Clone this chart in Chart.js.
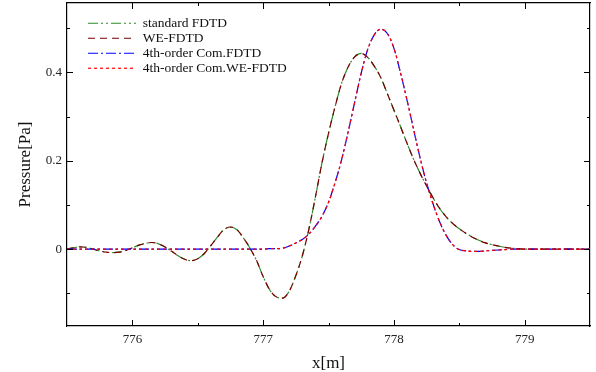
<!DOCTYPE html>
<html>
<head>
<meta charset="utf-8">
<script src="https://cdn.jsdelivr.net/npm/chart.js@4/dist/chart.umd.min.js"></script>
<style>
  body { margin: 0; background: #fff; }
  #wrap { width: 596px; height: 372px; position: relative; }
</style>
</head>
<body>
<div id="wrap"><canvas id="presion"></canvas></div>
<script>
// posiciones x[m]
const xs = [
  775.50, 775.55, 775.60, 775.65, 775.70, 775.75, 775.80, 775.85, 775.90, 775.95,
  776.00, 776.05, 776.10, 776.15, 776.20, 776.25, 776.30, 776.35, 776.40, 776.45,
  776.50, 776.55, 776.60, 776.65, 776.70, 776.75, 776.80, 776.85, 776.90, 776.95,
  777.00, 777.05, 777.10, 777.15, 777.20, 777.25, 777.30, 777.35, 777.40, 777.45,
  777.50, 777.55, 777.60, 777.65, 777.70, 777.75, 777.80, 777.85, 777.90, 777.95,
  778.00, 778.05, 778.10, 778.15, 778.20, 778.25, 778.30, 778.35, 778.40, 778.45,
  778.50, 778.55, 778.60, 778.65, 778.70, 778.75, 778.80, 778.85, 778.90, 778.95,
  779.00, 779.05, 779.10, 779.15, 779.20, 779.25, 779.30, 779.35, 779.40, 779.45,
  779.50
];

const standardFDTD = [
  0.000, 0.003, 0.005, 0.004, 0.000, -0.004, -0.007, -0.008, -0.007, -0.003,
  0.003, 0.009, 0.013, 0.015, 0.012, 0.005, -0.005, -0.015, -0.023, -0.026,
  -0.022, -0.010, 0.008, 0.027, 0.044, 0.050, 0.044, 0.025, 0.002, -0.026,
  -0.062, -0.092, -0.108, -0.111, -0.095, -0.060, -0.015, 0.045, 0.118, 0.195,
  0.262, 0.322, 0.375, 0.412, 0.435, 0.443, 0.434, 0.414, 0.388, 0.352,
  0.315, 0.278, 0.240, 0.204, 0.172, 0.143, 0.116, 0.092, 0.073, 0.058,
  0.046, 0.036, 0.027, 0.020, 0.014, 0.010, 0.007, 0.004, 0.002, 0.001,
  0, 0, 0, 0, 0, 0, 0, 0, 0, 0,
  0
];

const weFDTD = [
  0.000, 0.003, 0.005, 0.004, 0.000, -0.004, -0.007, -0.008, -0.007, -0.003,
  0.003, 0.009, 0.013, 0.015, 0.012, 0.005, -0.005, -0.015, -0.023, -0.026,
  -0.022, -0.010, 0.008, 0.027, 0.044, 0.050, 0.044, 0.025, 0.002, -0.026,
  -0.062, -0.092, -0.108, -0.111, -0.095, -0.060, -0.015, 0.045, 0.118, 0.195,
  0.262, 0.322, 0.375, 0.412, 0.435, 0.443, 0.434, 0.414, 0.388, 0.352,
  0.315, 0.278, 0.240, 0.204, 0.172, 0.143, 0.116, 0.092, 0.073, 0.058,
  0.046, 0.036, 0.027, 0.020, 0.014, 0.010, 0.007, 0.004, 0.002, 0.001,
  0, 0, 0, 0, 0, 0, 0, 0, 0, 0,
  0
];

const com4FDTD = [
  0, 0, 0, 0, 0, 0, 0, 0, 0, 0,
  0, 0, 0, 0, 0, 0, 0, 0, 0, 0,
  0, 0, 0, 0, 0, 0, 0, 0, 0, 0,
  0.000, 0.001, 0.001, 0.002, 0.007, 0.014, 0.022, 0.034, 0.052, 0.074,
  0.106, 0.150, 0.202, 0.265, 0.332, 0.398, 0.452, 0.485, 0.498, 0.488,
  0.455, 0.400, 0.338, 0.272, 0.207, 0.150, 0.102, 0.062, 0.031, 0.010,
  -0.001, -0.004, -0.005, -0.005, -0.004, -0.003, -0.002, -0.001, 0, 0,
  0, 0, 0, 0, 0, 0, 0, 0, 0, 0,
  0
];

const com4WEFDTD = [
  0, 0, 0, 0, 0, 0, 0, 0, 0, 0,
  0, 0, 0, 0, 0, 0, 0, 0, 0, 0,
  0, 0, 0, 0, 0, 0, 0, 0, 0, 0,
  0.000, 0.001, 0.001, 0.002, 0.007, 0.014, 0.022, 0.034, 0.052, 0.074,
  0.106, 0.150, 0.202, 0.265, 0.332, 0.398, 0.452, 0.485, 0.498, 0.488,
  0.455, 0.400, 0.338, 0.272, 0.207, 0.150, 0.102, 0.062, 0.031, 0.010,
  -0.001, -0.004, -0.005, -0.005, -0.004, -0.003, -0.002, -0.001, 0, 0,
  0, 0, 0, 0, 0, 0, 0, 0, 0, 0,
  0
];

const xTicks = [776, 777, 778, 779];
const xMinorTicks = [776.5, 777.5, 778.5];
const yTicks = [0, 0.2, 0.4];
const yMinorTicks = [-0.1, 0.1, 0.3, 0.5];

const serif = 'Liberation Serif';
const pts = arr => xs.map((x, i) => ({ x: x, y: arr[i] }));

// marcas hacia adentro en los cuatro lados
const innerTicks = {
  id: 'innerTicks',
  afterDraw(chart) {
    const { ctx, chartArea: a, scales } = chart;
    ctx.save();
    ctx.strokeStyle = '#000';
    ctx.lineWidth = 1;
    ctx.beginPath();
    const xt = (v, len) => {
      const px = Math.round(scales.x.getPixelForValue(v)) + 0.5;
      ctx.moveTo(px, a.bottom); ctx.lineTo(px, a.bottom - len);
      ctx.moveTo(px, a.top); ctx.lineTo(px, a.top + len);
    };
    const yt = (v, len) => {
      const py = Math.round(scales.y.getPixelForValue(v)) + 0.5;
      ctx.moveTo(a.left, py); ctx.lineTo(a.left + len, py);
      ctx.moveTo(a.right, py); ctx.lineTo(a.right - len, py);
    };
    xTicks.forEach(v => xt(v, 6));
    xMinorTicks.forEach(v => xt(v, 3));
    yTicks.forEach(v => yt(v, 6));
    yMinorTicks.forEach(v => yt(v, 3));
    ctx.stroke();
    ctx.restore();
  }
};

// leyenda dentro del area del grafico
const moverLeyenda = {
  id: 'moverLeyenda',
  afterLayout(chart) {
    chart.legend.left = chart.chartArea.left + 19.5;
    chart.legend.top = chart.chartArea.top + 12;
  }
};

const sinPadding = s => { s.paddingTop = 0; s.paddingBottom = 0; s.paddingLeft = 0; s.paddingRight = 0; };

new Chart(document.getElementById('presion'), {
  type: 'line',
  data: {
    datasets: [
      {
        label: 'standard FDTD',
        data: pts(standardFDTD),
        borderColor: '#2a8c2a',
        borderDash: [10, 3, 2, 3, 2, 3],
        order: 4
      },
      {
        label: 'WE-FDTD',
        data: pts(weFDTD),
        borderColor: '#7a0000',
        borderDash: [7, 5],
        order: 3
      },
      {
        label: '4th-order Com.FDTD',
        data: pts(com4FDTD),
        borderColor: '#0000ff',
        borderDash: [10, 3, 2, 3],
        order: 2
      },
      {
        label: '4th-order Com.WE-FDTD',
        data: pts(com4WEFDTD),
        borderColor: '#ff0000',
        borderDash: [3, 3],
        order: 1
      }
    ]
  },
  options: {
    responsive: true,
    maintainAspectRatio: false,
    animation: false,
    layout: { padding: { top: 3, right: 6, left: 0, bottom: 0 } },
    elements: {
      point: { radius: 0 },
      line: { borderWidth: 1.2, cubicInterpolationMode: 'monotone', fill: false }
    },
    plugins: {
      tooltip: { enabled: false },
      legend: {
        position: 'chartArea',
        align: 'start',
        labels: {
          usePointStyle: true,
          pointStyle: 'line',
          pointStyleWidth: 48,
          usePointStyleWidth: true,
          padding: 1.5,
          color: '#111',
          font: { family: serif, size: 13.5 },
          sort: (a, b) => a.datasetIndex - b.datasetIndex,
          generateLabels: chart =>
            Chart.defaults.plugins.legend.labels.generateLabels(chart).map(it => {
              const ds = chart.data.datasets[it.datasetIndex];
              return { ...it, lineDash: ds.borderDash, strokeStyle: ds.borderColor, lineWidth: 1.2 };
            })
        }
      }
    },
    scales: {
      x: {
        type: 'linear',
        position: 'bottom',
        min: 775.5,
        max: 779.5,
        afterBuildTicks: s => { s.ticks = xTicks.map(v => ({ value: v })); },
        afterFit: s => { s.height = 46; sinPadding(s); },
        grid: { display: false, drawTicks: false },
        border: { display: true, color: '#000', width: 1.2 },
        ticks: { padding: 6, color: '#222', font: { family: serif, size: 13 } },
        title: {
          display: true,
          text: 'x[m]',
          color: '#111',
          font: { family: serif, size: 17, lineHeight: 1 },
          padding: { top: 0, bottom: 0 }
        }
      },
      y: {
        type: 'linear',
        position: 'left',
        min: -0.174,
        max: 0.557,
        afterBuildTicks: s => { s.ticks = yTicks.map(v => ({ value: v })); },
        afterFit: s => { s.width = 67; sinPadding(s); },
        grid: { display: false, drawTicks: false },
        border: { display: true, color: '#000', width: 1.2 },
        ticks: { padding: 5, color: '#222', font: { family: serif, size: 13 } },
        title: {
          display: true,
          text: 'Pressure[Pa]',
          color: '#111',
          font: { family: serif, size: 17, lineHeight: 1.2 },
          padding: { top: 15, bottom: 0 }
        }
      },
      x2: {
        type: 'linear',
        position: 'top',
        min: 775.5,
        max: 779.5,
        afterFit: s => { s.height = 0; sinPadding(s); },
        grid: { display: false, drawTicks: false },
        border: { display: true, color: '#000', width: 1.2 },
        ticks: { display: false }
      },
      y2: {
        type: 'linear',
        position: 'right',
        min: -0.174,
        max: 0.557,
        afterFit: s => { s.width = 0; sinPadding(s); },
        grid: { display: false, drawTicks: false },
        border: { display: true, color: '#000', width: 1.2 },
        ticks: { display: false }
      }
    }
  },
  plugins: [innerTicks, moverLeyenda]
});
</script>
</body>
</html>
